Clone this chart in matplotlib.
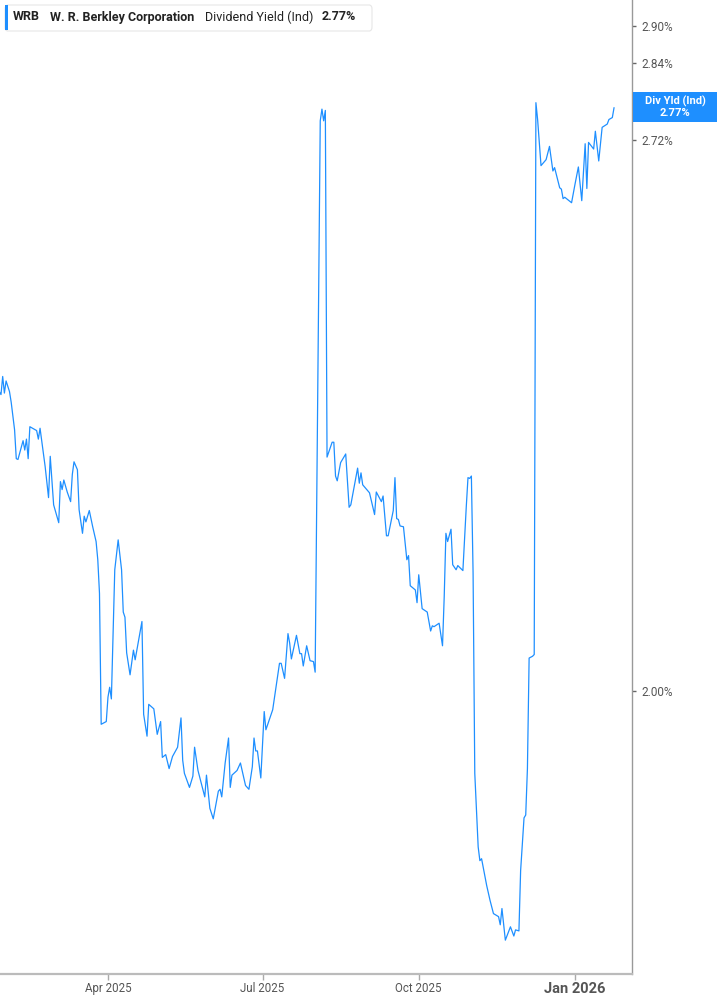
import matplotlib
matplotlib.use("Agg")
import matplotlib.pyplot as plt
import matplotlib.dates as mdates
from matplotlib.patches import FancyBboxPatch, Rectangle
import pandas as pd

plt.rcParams['font.family'] = ['Roboto', 'DejaVu Sans']

# dividend yield (%)
dates = [
    '2025-01-27', '2025-01-28', '2025-01-29', '2025-01-30', '2025-01-31', '2025-02-02', '2025-02-03',
    '2025-02-05', '2025-02-06', '2025-02-07', '2025-02-10', '2025-02-11', '2025-02-12', '2025-02-13',
    '2025-02-14', '2025-02-18', '2025-02-19', '2025-02-20', '2025-02-23', '2025-02-25', '2025-02-26',
    '2025-02-28', '2025-03-03', '2025-03-04', '2025-03-05', '2025-03-06', '2025-03-08', '2025-03-10',
    '2025-03-11', '2025-03-12', '2025-03-14', '2025-03-15', '2025-03-17', '2025-03-18', '2025-03-19',
    '2025-03-21', '2025-03-23', '2025-03-25', '2025-03-26', '2025-03-27', '2025-03-28', '2025-03-31',
    '2025-04-01', '2025-04-02', '2025-04-03', '2025-04-05', '2025-04-07', '2025-04-09', '2025-04-10',
    '2025-04-11', '2025-04-12', '2025-04-14', '2025-04-16', '2025-04-17', '2025-04-21', '2025-04-22',
    '2025-04-24', '2025-04-25', '2025-04-28', '2025-04-30', '2025-05-02', '2025-05-03', '2025-05-05',
    '2025-05-07', '2025-05-09', '2025-05-12', '2025-05-14', '2025-05-15', '2025-05-16', '2025-05-19',
    '2025-05-21', '2025-05-22', '2025-05-24', '2025-05-28', '2025-05-29', '2025-05-31', '2025-06-02',
    '2025-06-05', '2025-06-06', '2025-06-07', '2025-06-09', '2025-06-11', '2025-06-12', '2025-06-13',
    '2025-06-16', '2025-06-18', '2025-06-21', '2025-06-23', '2025-06-25', '2025-06-26', '2025-06-27',
    '2025-06-28', '2025-06-30', '2025-07-02', '2025-07-03', '2025-07-05', '2025-07-07', '2025-07-11',
    '2025-07-12', '2025-07-14', '2025-07-16', '2025-07-17', '2025-07-18', '2025-07-21', '2025-07-23',
    '2025-07-24', '2025-07-25', '2025-07-27', '2025-07-29', '2025-07-31', '2025-08-01', '2025-08-04',
    '2025-08-05', '2025-08-06', '2025-08-07', '2025-08-08', '2025-08-11', '2025-08-12', '2025-08-13',
    '2025-08-14', '2025-08-16', '2025-08-19', '2025-08-21', '2025-08-22', '2025-08-26', '2025-08-27',
    '2025-08-28', '2025-08-29', '2025-09-02', '2025-09-05', '2025-09-06', '2025-09-09', '2025-09-10',
    '2025-09-12', '2025-09-13', '2025-09-16', '2025-09-17', '2025-09-18', '2025-09-19', '2025-09-20',
    '2025-09-22', '2025-09-24', '2025-09-25', '2025-09-26', '2025-09-29', '2025-09-30', '2025-10-01',
    '2025-10-03', '2025-10-06', '2025-10-08', '2025-10-09', '2025-10-10', '2025-10-13', '2025-10-15',
    '2025-10-16', '2025-10-17', '2025-10-18', '2025-10-20', '2025-10-21', '2025-10-23', '2025-10-24',
    '2025-10-27', '2025-10-29', '2025-10-30', '2025-10-31', '2025-11-01', '2025-11-02', '2025-11-03',
    '2025-11-05', '2025-11-06', '2025-11-07', '2025-11-10', '2025-11-12', '2025-11-14', '2025-11-17',
    '2025-11-18', '2025-11-19', '2025-11-21', '2025-11-24', '2025-11-26', '2025-11-27', '2025-11-29',
    '2025-11-30', '2025-12-02', '2025-12-03', '2025-12-04', '2025-12-05', '2025-12-07', '2025-12-08',
    '2025-12-09', '2025-12-10', '2025-12-12', '2025-12-15', '2025-12-17', '2025-12-19', '2025-12-20',
    '2025-12-23', '2025-12-24', '2025-12-25', '2025-12-26', '2025-12-30', '2026-01-01', '2026-01-03',
    '2026-01-05', '2026-01-07', '2026-01-08', '2026-01-09', '2026-01-12', '2026-01-13', '2026-01-15',
    '2026-01-17', '2026-01-20', '2026-01-21', '2026-01-23', '2026-01-24',
]
div_yield = [
    2.364, 2.360, 2.384, 2.362, 2.378, 2.364, 2.350,
    2.314, 2.277, 2.276, 2.300, 2.288, 2.302, 2.277,
    2.318, 2.313, 2.302, 2.316, 2.267, 2.228, 2.280,
    2.219, 2.197, 2.248, 2.238, 2.250, 2.235, 2.223,
    2.257, 2.273, 2.263, 2.213, 2.184, 2.205, 2.198,
    2.212, 2.192, 2.174, 2.152, 2.112, 1.963, 1.966,
    1.993, 2.004, 1.991, 2.140, 2.176, 2.140, 2.090,
    2.084, 2.043, 2.018, 2.046, 2.035, 2.079, 1.974,
    1.950, 1.985, 1.980, 1.952, 1.966, 1.927, 1.930,
    1.915, 1.928, 1.938, 1.970, 1.924, 1.910, 1.895,
    1.907, 1.938, 1.913, 1.885, 1.908, 1.873, 1.862,
    1.891, 1.893, 1.885, 1.921, 1.948, 1.895, 1.908,
    1.913, 1.921, 1.897, 1.893, 1.917, 1.948, 1.934,
    1.934, 1.905, 1.977, 1.957, 1.968, 1.979, 2.031,
    2.031, 2.014, 2.065, 2.054, 2.036, 2.063, 2.042,
    2.042, 2.028, 2.051, 2.034, 2.033, 2.021, 2.750,
    2.768, 2.750, 2.766, 2.279, 2.298, 2.298, 2.255,
    2.249, 2.272, 2.283, 2.216, 2.219, 2.265, 2.246,
    2.259, 2.244, 2.234, 2.207, 2.235, 2.223, 2.230,
    2.181, 2.181, 2.212, 2.253, 2.202, 2.201, 2.193,
    2.192, 2.152, 2.157, 2.121, 2.116, 2.101, 2.134,
    2.094, 2.090, 2.068, 2.074, 2.073, 2.077, 2.051,
    2.108, 2.184, 2.174, 2.189, 2.146, 2.140, 2.145,
    2.139, 2.217, 2.253, 2.252, 2.255, 2.136, 1.910,
    1.833, 1.819, 1.821, 1.794, 1.779, 1.766, 1.763,
    1.755, 1.771, 1.740, 1.753, 1.744, 1.750, 1.749,
    1.809, 1.863, 1.866, 1.915, 2.037, 2.039, 2.041,
    2.778, 2.752, 2.682, 2.691, 2.711, 2.674, 2.679,
    2.649, 2.647, 2.633, 2.635, 2.627, 2.654, 2.680,
    2.630, 2.715, 2.648, 2.717, 2.707, 2.734, 2.689,
    2.740, 2.745, 2.752, 2.755, 2.77,
]
y_ticks = [2.00, 2.72, 2.84, 2.90]
x_ticks = ['2025-04-01', '2025-07-01', '2025-10-01', '2026-01-01']
x_labels = ['Apr 2025', 'Jul 2025', 'Oct 2025', 'Jan 2026']

ticker = 'WRB'
company = 'W. R. Berkley Corporation'
metric = 'Dividend Yield (Ind)'
last_val = '2.77%'

blue = '#1e8fff'
W, H = 717, 1005

fig = plt.figure(figsize=(W / 100, H / 100), dpi=100)
ax = fig.add_axes([0, 31 / H, 632 / W, 1 - 31 / H])

ax.plot(pd.to_datetime(dates), div_yield, color=blue, lw=0.9)

ax.set_yscale('log')
ax.set_ylim(1.7074, 2.942)
ax.set_xlim(pd.Timestamp('2025-01-27 10:00'), pd.Timestamp('2026-02-03 14:00'))

ax.yaxis.tick_right()
ax.set_yticks(y_ticks)
ax.set_yticklabels(['%.2f%%' % v for v in y_ticks])
ax.yaxis.set_minor_locator(matplotlib.ticker.NullLocator())
ax.tick_params(axis='y', which='major', length=3, width=1, color='#666666',
               labelcolor='#555555', labelsize=8.5, pad=4)

ax.set_xticks(pd.to_datetime(x_ticks))
ax.set_xticklabels(x_labels)
ax.tick_params(axis='x', length=4, width=1, color='#aaaaaa',
               labelcolor='#555555', labelsize=8.3, pad=2)
for lbl in ax.get_xticklabels():
    if lbl.get_text().startswith('Jan'):
        lbl.set_fontweight('bold')
        lbl.set_fontsize(10.5)

for s in ['top', 'left']:
    ax.spines[s].set_visible(False)
ax.spines['right'].set_color('#999999')
ax.spines['right'].set_linewidth(1)
ax.spines['bottom'].set_color('#bbbbbb')
ax.spines['bottom'].set_linewidth(1.6)

# header box
def px(x, y):
    return x / W, 1 - y / H

hx, hy = px(5, 31)
box = FancyBboxPatch((hx, hy), 367 / W, 26 / H, boxstyle='round,pad=0,rounding_size=0.004',
                     transform=fig.transFigure, facecolor='white', edgecolor='#e6e6e6', lw=0.8)
fig.patches.append(box)
bx, by = px(5, 30)
fig.patches.append(Rectangle((bx, by), 3 / W, 25 / H, transform=fig.transFigure,
                             facecolor=blue, edgecolor='none'))
ty = 1 - 17 / H
fig.text(13 / W, ty, ticker, fontsize=9, fontweight='bold', color='#222222', va='center')
fig.text(50 / W, ty, company, fontsize=9, fontweight='bold', color='#222222', va='center')
fig.text(205 / W, ty, metric, fontsize=9, color='#222222', va='center')
fig.text(322 / W, ty, last_val, fontsize=9, fontweight='bold', color='#222222', va='center')

# last value tag on the axis
rx, ry = px(633, 122)
fig.patches.append(Rectangle((rx, ry), 84 / W, 30 / H, transform=fig.transFigure,
                             facecolor=blue, edgecolor='none'))
fig.text(675 / W, 1 - 101 / H, 'Div Yld (Ind)', fontsize=8, fontweight='bold', color='white',
         ha='center', va='center')
fig.text(675 / W, 1 - 113.5 / H, last_val, fontsize=8, fontweight='bold', color='white',
         ha='center', va='center')

fig.savefig('out.png', dpi=100)
